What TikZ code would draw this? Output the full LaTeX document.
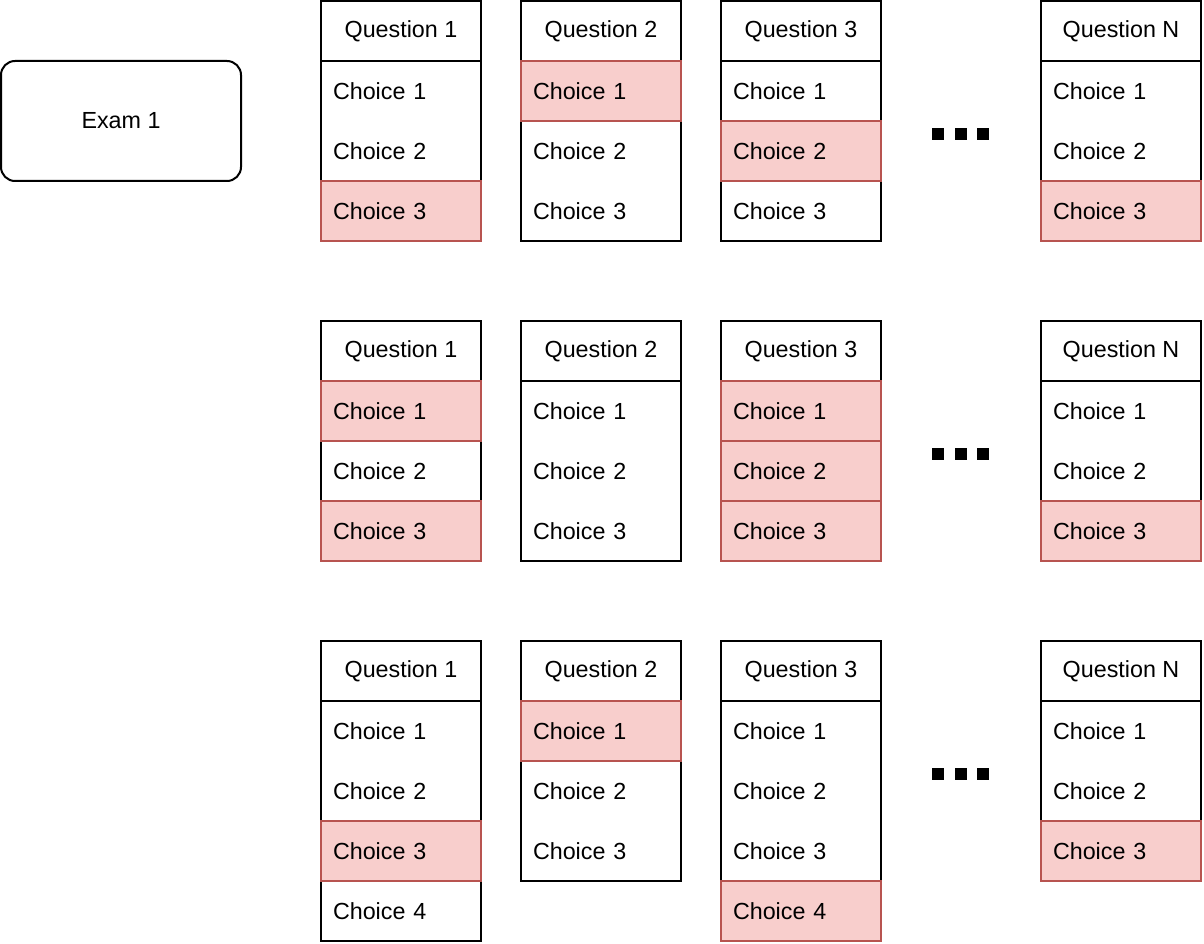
\documentclass[tikz,border=0pt]{standalone}
\usepackage{fontspec}
\setmainfont{Liberation Sans}
\usepackage{tikz}
\usetikzlibrary{positioning}

\definecolor{pickfill}{HTML}{F8CECC}
\definecolor{pickline}{HTML}{B85450}

\tikzset{
  cell/.style={minimum width=160pt, minimum height=60pt, inner sep=0pt, line width=2pt},
  qhead/.style={cell, draw=black},
  choice/.style={cell, text width=136pt, align=left},
  picked/.style={choice, draw=pickline, fill=pickfill},
  qframe/.style={draw=black, line width=2pt},
  exam/.style={draw=black, line width=2pt, rounded corners=14pt, minimum width=240pt, minimum height=120pt},
  dotbox/.style={fill=black, minimum size=12pt, inner sep=0pt},
}

% one question column: name, left, top, title, number of choices, choice/style list
\newcommand{\qcol}[6]{%
  \draw[qframe] (#2,#3) rectangle ++(160,{60*(#5+1)});
  \node[qhead] (#1h) at (#2+80,#3+30) {#4};
  \foreach \k/\s in {#6}
    \node[\s] (#1c\k) at (#2+80,{#3+30+60*\k}) {Choice \k};
}

\begin{document}
\begin{tikzpicture}[x=1pt, y=-1pt, font=\fontsize{23.3}{28}\selectfont]
  \useasboundingbox (0,0) rectangle (1204,944);
  \node[exam] (exam) at (121,121) {Exam 1};

  % first answer sheet
  \qcol{aq1}{321}{1}{Question 1}{3}{1/choice,2/choice,3/picked}
  \qcol{aq2}{521}{1}{Question 2}{3}{1/picked,2/choice,3/choice}
  \qcol{aq3}{721}{1}{Question 3}{3}{1/choice,2/picked,3/choice}
  \qcol{aqn}{1041}{1}{Question N}{3}{1/choice,2/choice,3/picked}

  % second answer sheet
  \qcol{bq1}{321}{321}{Question 1}{3}{1/picked,2/choice,3/picked}
  \qcol{bq2}{521}{321}{Question 2}{3}{1/choice,2/choice,3/choice}
  \qcol{bq3}{721}{321}{Question 3}{3}{1/picked,2/picked,3/picked}
  \qcol{bqn}{1041}{321}{Question N}{3}{1/choice,2/choice,3/picked}

  % third answer sheet
  \qcol{cq1}{321}{641}{Question 1}{4}{1/choice,2/choice,3/picked,4/choice}
  \qcol{cq2}{521}{641}{Question 2}{3}{1/picked,2/choice,3/choice}
  \qcol{cq3}{721}{641}{Question 3}{4}{1/choice,2/choice,3/choice,4/picked}
  \qcol{cqn}{1041}{641}{Question N}{3}{1/choice,2/choice,3/picked}

  % the ellipsis between Question 3 and Question N
  \foreach \r in {0,1,2}
    \foreach \d in {0,1,2}
      \node[dotbox] (dots\r\d) at ({938+22.5*\d},{134+320*\r}) {};
\end{tikzpicture}
\end{document}
